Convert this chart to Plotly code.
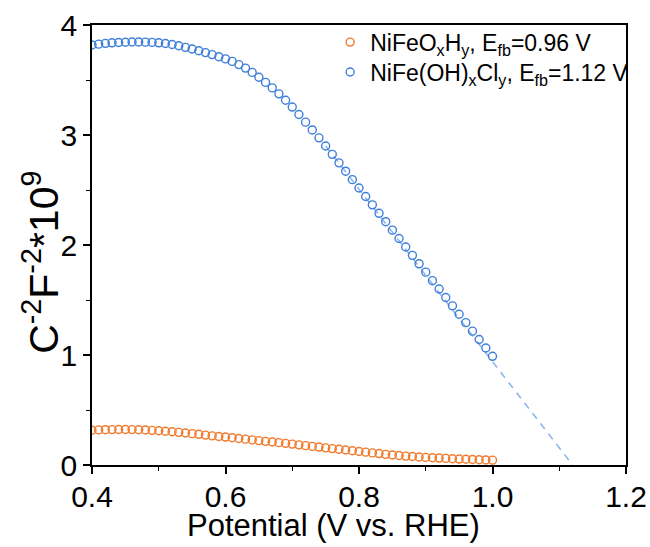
import plotly.graph_objects as go

# Potential (V vs. RHE), 10 mV steps
potential = [round(0.40 + 0.01 * i, 2) for i in range(61)]

# Mott-Schottky data, C^-2 F^-2 * 10^9
nifeoh_cl = [
    3.818, 3.826, 3.833, 3.838, 3.841, 3.843, 3.845, 3.845, 3.844, 3.842,
    3.838, 3.832, 3.823, 3.811, 3.797, 3.782, 3.766, 3.749, 3.731, 3.712,
    3.692, 3.669, 3.640, 3.608, 3.569, 3.525, 3.478, 3.428, 3.374, 3.316,
    3.254, 3.186, 3.117, 3.046, 2.974, 2.900, 2.824, 2.747, 2.671, 2.594,
    2.518, 2.441, 2.365, 2.288, 2.212, 2.135, 2.059, 1.982, 1.906, 1.829,
    1.753, 1.676, 1.600, 1.523, 1.447, 1.370, 1.294, 1.217, 1.141, 1.064,
    0.988,
]
nifeoxhy = [
    0.316, 0.319, 0.321, 0.322, 0.323, 0.323, 0.322, 0.320, 0.318, 0.315,
    0.311, 0.307, 0.302, 0.297, 0.291, 0.285, 0.279, 0.272, 0.265, 0.259,
    0.254, 0.248, 0.241, 0.235, 0.228, 0.222, 0.215, 0.209, 0.203, 0.197,
    0.190, 0.183, 0.176, 0.169, 0.163, 0.156, 0.149, 0.143, 0.136, 0.130,
    0.123, 0.117, 0.110, 0.104, 0.097, 0.091, 0.086, 0.081, 0.077, 0.073,
    0.069, 0.066, 0.063, 0.060, 0.057, 0.054, 0.052, 0.050, 0.048, 0.046,
    0.044,
]

# Linear fit of the NiFe(OH)xCly slope, extrapolated to the flat-band potential
fit_x = [0.75, 1.12]
fit_y = [2.90, 0.0]

names = [
    "NiFeO<sub>x</sub>H<sub>y</sub>, E<sub>fb</sub>=0.96 V",
    "NiFe(OH)<sub>x</sub>Cl<sub>y</sub>, E<sub>fb</sub>=1.12 V",
]
x_title = "Potential (V vs. RHE)"
y_title = "C<sup>-2</sup>F<sup>-2</sup>*10<sup>9</sup>"

ORANGE = "#F27A2C"
BLUE = "#3E7FDA"
FONT = "Arial, 'Liberation Sans', sans-serif"

fig = go.Figure()

fig.add_trace(go.Scatter(
    x=fit_x, y=fit_y, mode="lines", showlegend=False, hoverinfo="skip",
    line=dict(color="#8DB5EE", width=1.6, dash="7px,6px"),
))
fig.add_trace(go.Scatter(
    x=potential, y=nifeoxhy, mode="markers", name=names[0], legend="legend",
    marker=dict(symbol="circle-open", size=8, color=ORANGE,
                line=dict(width=1.4, color=ORANGE)),
))
fig.add_trace(go.Scatter(
    x=potential, y=nifeoh_cl, mode="markers", name=names[1], legend="legend2",
    marker=dict(symbol="circle-open", size=8, color=BLUE,
                line=dict(width=1.4, color=BLUE)),
))

axis_common = dict(
    showline=True, linecolor="black", linewidth=1.6, mirror=True,
    showgrid=False, zeroline=False, automargin=False,
    ticks="outside", ticklen=7, tickwidth=1.5, tickcolor="black",
    tickfont=dict(family=FONT, size=30, color="black"),
)

fig.update_xaxes(
    range=[0.4, 1.2], tickvals=[0.4, 0.6, 0.8, 1.0, 1.2],
    ticktext=["0.4", "0.6", "0.8", "1.0", "1.2"],
    ticklabelstandoff=-3,
    minor=dict(ticks="outside", tickvals=[0.5, 0.7, 0.9, 1.1], ticklen=4,
               tickwidth=1.3, tickcolor="black"),
    **axis_common,
)
fig.update_yaxes(
    range=[0, 4], tickvals=[0, 1, 2, 3, 4],
    minor=dict(ticks="outside", tickvals=[0.5, 1.5, 2.5, 3.5], ticklen=4,
               tickwidth=1.3, tickcolor="black"),
    **axis_common,
)

# Axis titles placed as annotations for exact positioning
fig.add_annotation(
    text=x_title, xref="paper", yref="paper", x=0.453, y=-0.137,
    xanchor="center", yanchor="middle", showarrow=False,
    font=dict(family=FONT, size=31, color="black"),
)
fig.add_annotation(
    text=y_title, xref="paper", yref="paper", x=-0.097, y=0.46,
    xanchor="center", yanchor="middle", showarrow=False, textangle=-90,
    font=dict(family=FONT, size=41, color="black"),
)

legend_common = dict(
    xanchor="left", yanchor="middle",
    bgcolor="rgba(0,0,0,0)", borderwidth=0,
    font=dict(family=FONT, size=23, color="black"),
    itemwidth=30,
)

fig.update_layout(
    width=650, height=547,
    margin=dict(l=92, r=24, t=25, b=82),
    paper_bgcolor="white", plot_bgcolor="white",
    font=dict(family=FONT, color="black"),
    legend=dict(x=0.446, y=0.961, **legend_common),
    legend2=dict(x=0.446, y=0.893, **legend_common),
)

fig.write_html("out.html")
